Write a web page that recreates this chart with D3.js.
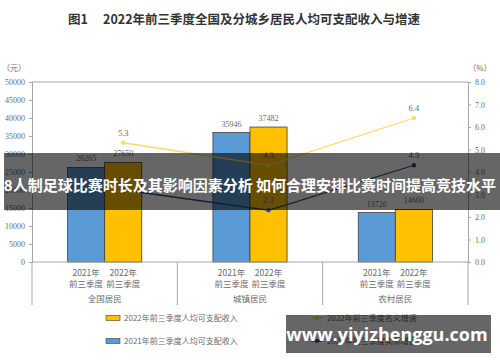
<!DOCTYPE html>
<html>
<head>
<meta charset="utf-8">
<script src="https://cdn.jsdelivr.net/npm/d3@7"></script>
<style>
  body { margin: 0; background: #fff; }
  svg { display: block; }
</style>
</head>
<body>
<div id="chart"></div>
<script>
// données
const groups = ["全国居民", "城镇居民", "农村居民"];
const years = ["2021年", "2022年"];
const income2021 = [26265, 35946, 13726];
const income2022 = [27650, 37482, 14600];
const nominalGrowth = [5.3, 4.3, 6.4];
const realGrowth = [3.2, 2.3, 4.3];
const leftTicks = [0, 5000, 10000, 15000, 20000, 25000, 30000, 35000, 40000, 45000, 50000];
const rightTicks = [0, 1, 2, 3, 4, 5, 6, 7, 8];
const legendItems = ["2022年前三季度人均可支配收入", "2021年前三季度人均可支配收入",
                     "2022年前三季度名义增速", "2022年前三季度实际增速"];

const width = 500, height = 362;
const margin = { top: 82, right: 32, bottom: 100, left: 32 };
const cjk = "'Noto Sans CJK SC', sans-serif";
const serif = "'Liberation Serif', 'Noto Sans CJK SC', serif";

const svg = d3.select("#chart").append("svg")
    .attr("width", width)
    .attr("height", height);

const x = d3.scaleBand().domain(groups).range([margin.left, width - margin.right]);
const xInner = d3.scaleBand().domain(years).range([0, x.bandwidth()]).paddingInner(0).paddingOuter(0.96);
const yL = d3.scaleLinear().domain([0, 50000]).range([height - margin.bottom, margin.top]);
const yR = d3.scaleLinear().domain([0, 8]).range([height - margin.bottom, margin.top]);

// titre
svg.append("text")
    .attr("x", 244).attr("y", 24)
    .attr("text-anchor", "middle")
    .style("font-family", cjk).style("font-size", "12.5px").style("font-weight", "bold")
    .attr("fill", "#333")
    .text("图1\u3000 2022年前三季度全国及分城乡居民人均可支配收入与增速");

// cadre du graphique
svg.append("line")
    .attr("x1", margin.left).attr("x2", width - margin.right)
    .attr("y1", margin.top).attr("y2", margin.top)
    .attr("stroke", "#a6a6a6");

// axes
const axL = svg.append("g")
    .attr("transform", `translate(${margin.left},0)`)
    .call(d3.axisLeft(yL).tickValues(leftTicks).tickSize(3).tickPadding(4).tickFormat(d3.format("d")));
const axR = svg.append("g")
    .attr("transform", `translate(${width - margin.right},0)`)
    .call(d3.axisRight(yR).tickValues(rightTicks).tickSize(3).tickPadding(4).tickFormat(d3.format(".1f")));
[axL, axR].forEach(ax => {
    ax.select(".domain").attr("stroke", "#a6a6a6");
    ax.selectAll(".tick line").attr("stroke", "#a6a6a6");
    ax.selectAll("text").style("font-family", serif).style("font-size", "8px").attr("fill", "#6b6b6b");
});

svg.append("text").attr("x", 14).attr("y", 71).attr("text-anchor", "middle")
    .style("font-family", cjk).style("font-size", "8px").attr("fill", "#6b6b6b").text("（元）");
svg.append("text").attr("x", 480).attr("y", 71).attr("text-anchor", "middle")
    .style("font-family", cjk).style("font-size", "8px").attr("fill", "#6b6b6b").text("（%）");

// barres
const barData = [];
groups.forEach((g, i) => {
    barData.push({ group: g, year: years[0], value: income2021[i], color: "#5b9bd5" });
    barData.push({ group: g, year: years[1], value: income2022[i], color: "#ffc000" });
});

svg.append("g").selectAll("rect")
    .data(barData)
    .join("rect")
    .attr("x", d => x(d.group) + xInner(d.year))
    .attr("y", d => yL(d.value))
    .attr("width", xInner.bandwidth())
    .attr("height", d => yL(0) - yL(d.value))
    .attr("fill", d => d.color)
    .attr("stroke", "#404040")
    .attr("stroke-width", 0.8);

svg.append("g").selectAll("text")
    .data(barData)
    .join("text")
    .attr("x", d => x(d.group) + xInner(d.year) + xInner.bandwidth() / 2)
    .attr("y", d => yL(d.value) - 6)
    .attr("text-anchor", "middle")
    .style("font-family", serif).style("font-size", "8px")
    .attr("fill", "#6b6b6b")
    .text(d => d.value);

// ligne du zéro
svg.append("line")
    .attr("x1", margin.left).attr("x2", width - margin.right)
    .attr("y1", yL(0)).attr("y2", yL(0))
    .attr("stroke", "#a6a6a6");

// séparateurs et étiquettes des catégories
const bounds = groups.map(g => x(g)).concat([x(groups[groups.length - 1]) + x.bandwidth()]);
svg.append("g").selectAll("line")
    .data(bounds)
    .join("line")
    .attr("x1", d => d).attr("x2", d => d)
    .attr("y1", yL(0)).attr("y2", yL(0) + 43)
    .attr("stroke", "#a6a6a6");

const catLabels = svg.append("g")
    .style("font-family", cjk).style("font-size", "8.5px").attr("fill", "#6b6b6b")
    .attr("text-anchor", "middle");
groups.forEach(g => {
    years.forEach(yr => {
        const cx = x(g) + xInner(yr) + xInner.bandwidth() / 2;
        catLabels.append("text").attr("x", cx).attr("y", yL(0) + 14).text(yr);
        catLabels.append("text").attr("x", cx).attr("y", yL(0) + 25).text("前三季度");
    });
    catLabels.append("text").attr("x", x(g) + x.bandwidth() / 2).attr("y", yL(0) + 40).text(g);
});

// lignes de croissance
const px = g => x(g) + xInner(years[1]) + xInner.bandwidth() / 2;
const series = [
    { values: nominalGrowth, color: "#ffd966" },
    { values: realGrowth, color: "#2f4f7f" }
];
series.forEach(s => {
    const pts = groups.map((g, i) => [px(g), yR(s.values[i]), s.values[i]]);
    svg.append("path")
        .attr("d", d3.line()(pts.map(p => [p[0], p[1]])))
        .attr("fill", "none")
        .attr("stroke", s.color)
        .attr("stroke-width", 1.3);
    svg.append("g").selectAll("circle")
        .data(pts)
        .join("circle")
        .attr("cx", p => p[0]).attr("cy", p => p[1]).attr("r", 2.2)
        .attr("fill", s.color);
    svg.append("g").selectAll("text")
        .data(pts)
        .join("text")
        .attr("x", p => p[0]).attr("y", p => p[1] - 7)
        .attr("text-anchor", "middle")
        .style("font-family", serif).style("font-size", "8.5px")
        .attr("fill", "#6b6b6b")
        .text(p => d3.format(".1f")(p[2]));
});

// légende
const legend = svg.append("g")
    .style("font-family", cjk).style("font-size", "8px").attr("fill", "#6b6b6b");
[[106, 318, "#ffc000", 0], [106, 341, "#5b9bd5", 1]].forEach(([lx, ly, c, i]) => {
    legend.append("rect").attr("x", lx).attr("y", ly - 2.5).attr("width", 14).attr("height", 5)
        .attr("fill", c).attr("stroke", "#404040").attr("stroke-width", 0.6);
    legend.append("text").attr("x", lx + 18).attr("y", ly + 3).text(legendItems[i]);
});
[[311, 318, "#ffd966", 2], [311, 341, "#2f4f7f", 3]].forEach(([lx, ly, c, i]) => {
    legend.append("line").attr("x1", lx).attr("x2", lx + 12).attr("y1", ly).attr("y2", ly)
        .attr("stroke", c).attr("stroke-width", 1.3);
    legend.append("circle").attr("cx", lx + 6).attr("cy", ly).attr("r", 2).attr("fill", c);
    legend.append("text").attr("x", lx + 16).attr("y", ly + 3).text(legendItems[i]);
});

// bandeau et filigrane superposés
svg.append("rect").attr("x", 4).attr("y", 153).attr("width", 496).attr("height", 57)
    .attr("fill", "rgba(0,0,0,0.6)");
svg.append("text")
    .attr("x", 250).attr("y", 191)
    .attr("text-anchor", "middle")
    .style("font-family", cjk).style("font-size", "15px").style("font-weight", "bold")
    .attr("fill", "#fff")
    .text("8人制足球比赛时长及其影响因素分析 如何合理安排比赛时间提高竞技水平");

svg.append("rect").attr("x", 286).attr("y", 315).attr("width", 205).attr("height", 38)
    .attr("fill", "rgba(0,0,0,0.6)");
svg.append("text")
    .attr("x", 387).attr("y", 341)
    .attr("text-anchor", "middle")
    .style("font-family", "'Open Sans', 'DejaVu Sans', sans-serif").style("font-size", "18px").style("font-weight", "bold")
    .attr("fill", "#fff")
    .text("www.yiyizhenggu.com");
</script>
</body>
</html>
